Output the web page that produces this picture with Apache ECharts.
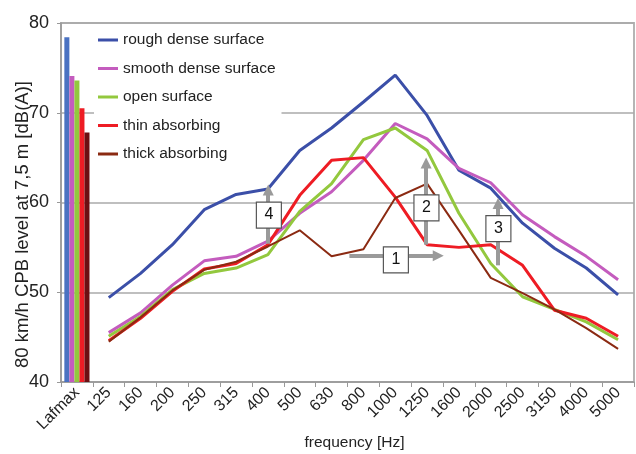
<!DOCTYPE html>
<html>
<head>
<meta charset="utf-8">
<script src="https://cdn.jsdelivr.net/npm/echarts@6/dist/echarts.min.js"></script>
<style>
  html, body { margin: 0; padding: 0; background: #fff; }
  #chart { width: 636px; height: 454px; }
</style>
</head>
<body>
<div id="chart"></div>
<script>
const categories = ["Lafmax", "125", "160", "200", "250", "315", "400", "500", "630", "800",
  "1000", "1250", "1600", "2000", "2500", "3150", "4000", "5000"];

const seriesNames = ["rough dense surface", "smooth dense surface", "open surface", "thin absorbing", "thick absorbing"];

// overall Lafmax level per surface (bars)
const lafmax = [78.4, 74.1, 73.6, 70.5, 67.8];

// third-octave levels 125 .. 5000 Hz
const rough = [49.4, 52.1, 55.3, 59.2, 60.9, 61.5, 65.8, 68.3, 71.2, 74.2, 69.7, 63.6, 61.6, 57.7, 54.9, 52.7, 49.7];
const smooth = [45.5, 47.7, 50.8, 53.5, 54.0, 55.7, 58.8, 61.2, 64.7, 68.8, 67.1, 63.8, 62.2, 58.6, 56.2, 54.0, 51.4];
const open = [45.1, 47.3, 50.3, 52.1, 52.7, 54.2, 59.0, 62.1, 67.0, 68.3, 65.8, 58.8, 53.2, 49.5, 48.1, 46.7, 44.7];
const thin = [44.6, 47.1, 50.1, 52.6, 53.2, 55.3, 60.8, 64.7, 65.0, 60.6, 55.3, 55.0, 55.3, 53.0, 48.0, 47.1, 45.1];
const thick = [44.5, 47.2, 50.2, 52.5, 53.4, 55.1, 56.9, 54.0, 54.8, 60.5, 62.1, 56.9, 51.6, 49.9, 48.1, 46.0, 43.7];

// annotation boxes: [x position in category units, level, label]
const boxes = [[10.52, 53.6, "1"], [11.48, 59.4, "2"], [13.74, 57.1, "3"], [6.53, 58.6, "4"]];
// annotation arrows: [x1, y1, x2, y2]
const arrows = [[9.06, 54.07, 11.85, 54.07], [11.47, 55.3, 11.47, 64.4], [13.73, 53.0, 13.73, 59.9], [6.51, 55.4, 6.51, 61.4]];

const lineColors = ["#3B4FA8", "#C45CBE", "#93C83E", "#EE1C24", "#8B2A12"];
const barColors = ["#4A72C2", "#C45CBE", "#93C83E", "#EE1C24", "#6D0F12"];
const lineWidths = [3, 3, 3, 3, 2];

const chart = echarts.init(document.getElementById("chart"));
const font = "Liberation Sans";

const series = [];
lafmax.forEach((v, i) => {
  series.push({
    name: "Lafmax " + seriesNames[i],
    type: "bar",
    barGap: 0,
    barCategoryGap: "21%",
    itemStyle: { color: barColors[i] },
    data: [v].concat(new Array(categories.length - 1).fill(null)),
  });
});
[rough, smooth, open, thin, thick].forEach((vals, i) => {
  series.push({
    name: seriesNames[i],
    type: "line",
    showSymbol: false,
    color: lineColors[i],
    lineStyle: { width: lineWidths[i], color: lineColors[i] },
    data: [null].concat(vals),
    z: 3,
  });
});
series.push({
  name: "arrows",
  type: "scatter",
  xAxisIndex: 1,
  symbolSize: 0,
  data: [],
  z: 5,
  markLine: {
    silent: true,
    symbol: ["none", "triangle"],
    symbolSize: 11,
    label: { show: false },
    lineStyle: { color: "#9a9a9a", width: 4, type: "solid" },
    itemStyle: { color: "#9a9a9a" },
    data: arrows.map((a) => [{ coord: [a[0], a[1]] }, { coord: [a[2], a[3]] }]),
  },
});
series.push({
  name: "boxes",
  type: "scatter",
  xAxisIndex: 1,
  symbol: "rect",
  symbolSize: [25, 26],
  itemStyle: { color: "#fff", borderColor: "#555", borderWidth: 1.2, opacity: 1 },
  label: {
    show: true,
    position: "inside",
    formatter: (p) => p.data[2],
    color: "#111",
    fontFamily: font,
    fontSize: 16,
  },
  data: boxes,
  z: 10,
});

const option = {
  animation: false,
  textStyle: { fontFamily: font },
  grid: {
    left: 61, right: 2, top: 23, bottom: 72,
    outerBoundsMode: "none",
    show: true, borderColor: "#b5b5b5", borderWidth: 2,
  },
  legend: {
    orient: "vertical",
    left: 94,
    top: 27,
    z: 1,
    padding: [4, 6, 4, 4],
    backgroundColor: "#fff",
    itemWidth: 20,
    itemHeight: 3,
    itemGap: 10.5,
    icon: "rect",
    textStyle: { fontFamily: font, fontSize: 15.5, color: "#222", lineHeight: 18 },
    data: seriesNames,
  },
  xAxis: [
    {
      type: "category",
      data: categories,
      name: "frequency [Hz]",
      nameLocation: "middle",
      nameGap: 53,
      nameMoveOverlap: false,
      nameTextStyle: { fontFamily: font, fontSize: 15.5, color: "#222", padding: [0, 0, 0, 14] },
      axisLine: { lineStyle: { color: "#999", width: 1.5 } },
      axisTick: { show: true, length: 5, lineStyle: { color: "#999" } },
      axisLabel: { rotate: 45, margin: 8, fontSize: 16, color: "#222", fontFamily: font, interval: 0 },
    },
    { type: "value", min: 0, max: 18, show: false },
  ],
  yAxis: {
    type: "value",
    min: 40,
    max: 80,
    interval: 10,
    name: "80 km/h CPB level at 7,5 m [dB(A)]",
    nameLocation: "middle",
    nameGap: 29,
    nameMoveOverlap: false,
    nameTextStyle: { fontFamily: font, fontSize: 18.5, color: "#222", padding: [0, 44, 0, 0] },
    axisLine: { show: true, lineStyle: { color: "#999", width: 1.5 } },
    axisTick: { show: true, length: 4, lineStyle: { color: "#999" } },
    axisLabel: { fontSize: 18, color: "#222", margin: 12, fontFamily: font },
    splitLine: { lineStyle: { color: "#aaa", width: 1.5 } },
  },
  series: series,
};

chart.setOption(option);
</script>
</body>
</html>
